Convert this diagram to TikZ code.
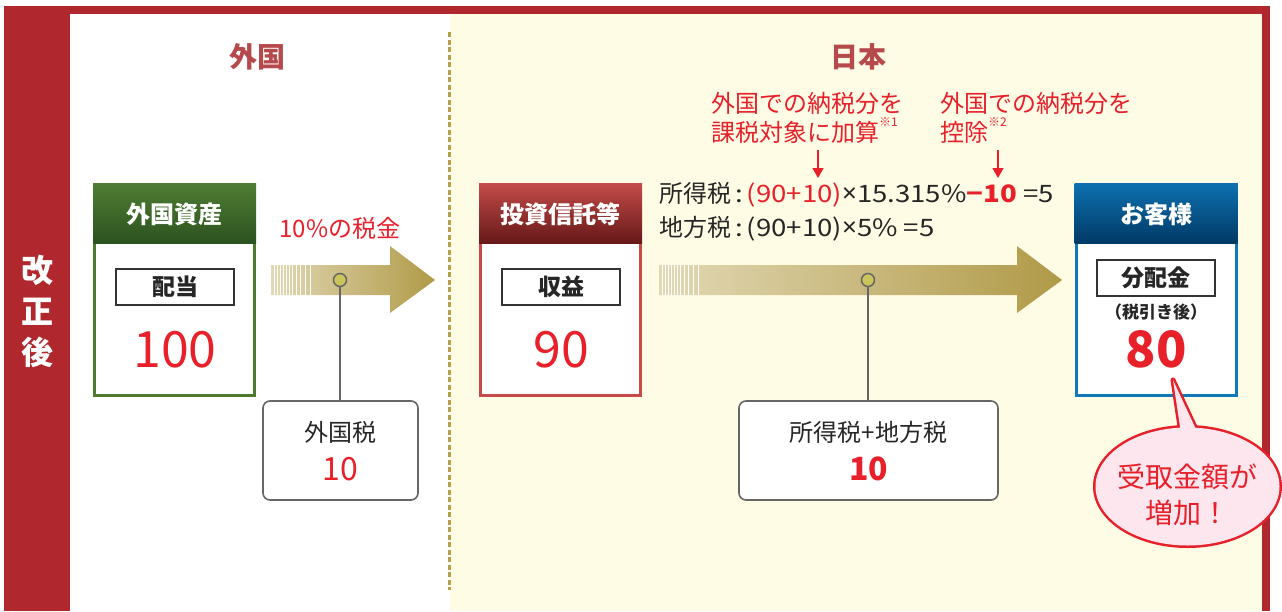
\documentclass[tikz,border=0pt]{standalone}
\usepackage{fontspec}
\setmainfont{Noto Sans CJK JP}
\newfontfamily\widefont{Noto Sans CJK JP}[FakeStretch=1.15]
\newfontfamily\latinfont{Noto Sans}
\usetikzlibrary{arrows.meta,shapes.geometric}

\definecolor{framered}{HTML}{B0282E}
\definecolor{headred}{HTML}{B5494B}
\definecolor{cream}{HTML}{FFFCE6}
\definecolor{olivedash}{HTML}{B8A048}
\definecolor{numred}{HTML}{E8202A}
\definecolor{grnline}{HTML}{4E7A30}
\definecolor{grntop}{HTML}{4F7D33}
\definecolor{grnbot}{HTML}{2C5220}
\definecolor{trline}{HTML}{C84A48}
\definecolor{trtop}{HTML}{C44C4A}
\definecolor{trbot}{HTML}{661818}
\definecolor{culine}{HTML}{0E78B8}
\definecolor{cutop}{HTML}{0E70B0}
\definecolor{cubot}{HTML}{003A66}
\definecolor{arrowL}{HTML}{E2D8B4}
\definecolor{arrowR}{HTML}{B09A48}
\definecolor{pinfill}{HTML}{CAC45A}
\definecolor{bubblefill}{HTML}{FDE6EE}

\newcommand{\tms}{{\latinfont\fontsize{26}{26}\selectfont ×}}

\tikzset{
  assetbox/.style={draw=#1, line width=3pt, fill=white, minimum width=160pt, minimum height=211pt, inner sep=0pt},
  headtext/.style={text=white, font=\fontsize{24}{26}\selectfont\bfseries},
  tagbox/.style={draw=black!80, line width=1.2pt, fill=white, minimum width=118pt, minimum height=36pt, inner sep=0pt, font=\fontsize{23}{26}\selectfont\bfseries, text=black!85},
  bignum/.style={text=numred, font=\fontsize{50}{54}\selectfont},
  taxbox/.style={draw=black!60, line width=1.6pt, fill=white, rounded corners=7pt, minimum height=99pt, inner sep=0pt},
  taxtext/.style={text=black!85, font=\fontsize{24}{26}\selectfont},
  pin/.style={circle, draw=black!60, fill=pinfill, line width=1.5pt, minimum size=13pt, inner sep=0pt},
  pinline/.style={draw=black!60, line width=1.6pt},
  notetext/.style={text=numred, align=left, anchor=north west, inner sep=0pt, font=\fontsize{24}{29}\selectfont},
  notearrow/.style={draw=numred, line width=1.3pt, -{Triangle[length=10pt,width=11pt]}},
  formula/.style={anchor=base west, inner sep=0pt, text=black!85, font=\fontsize{24}{26}\selectfont},
}

\begin{document}
\begin{tikzpicture}[x=1pt,y=-1pt]
\useasboundingbox (0,0) rectangle (1282,611);

% background and frame
\fill[cream] (450,14) rectangle (1262,611);
\fill[framered] (4,6) rectangle (1270,14);
\fill[framered] (4,6) rectangle (70,611);
\fill[framered] (1262,6) rectangle (1270,611);
\draw[olivedash, line width=3pt, dash pattern=on 5pt off 2.5pt] (449,32) -- (449,590);

\node[text=white, align=center, font=\fontsize{32}{41}\selectfont\bfseries] (after) at (37,311) {改\\正\\後};
\node[text=headred, font=\fontsize{28}{30}\selectfont\bfseries] (forhead) at (257,57) {外国};
\node[text=headred, font=\fontsize{28}{30}\selectfont\bfseries] (jphead) at (858,57) {日本};

% arrows
\shade[left color=arrowL, right color=arrowR] (271,265) -- (390,265) -- (390,246) -- (435,280) -- (390,313) -- (390,295) -- (271,295) -- cycle;
\foreach \x in {274,277,280,283,286,289,292,296,300,305,310}
  \draw[white, line width=1pt] (\x,264) -- (\x,296);
\shade[left color=arrowL, right color=arrowR] (659,265) -- (1017,265) -- (1017,246) -- (1062,280) -- (1017,313) -- (1017,295) -- (659,295) -- cycle;
\foreach \x in {662,665,668,671,674,677,680,684,688,693,698}
  \draw[white, line width=1pt] (\x,264) -- (\x,296);

% foreign asset
\node[assetbox=grnline] (asset) at (174.5,290) {};
\shade[top color=grntop, bottom color=grnbot] (93,183) rectangle (256,243);
\node[headtext] (assethead) at (174.5,214) {外国資産};
\node[tagbox] (dividend) at (175,287) {配当};
\node[bignum] (hundred) at (175,350) {100};

% investment trust
\node[assetbox=trline] (trust) at (560.5,290) {};
\shade[top color=trtop, bottom color=trbot] (479,183) rectangle (642,243);
\node[headtext] (trusthead) at (560.5,214) {投資信託等};
\node[tagbox] (income) at (561,287) {収益};
\node[bignum] (ninety) at (561,350) {90};

% customer
\node[assetbox=culine] (customer) at (1156,290) {};
\shade[top color=cutop, bottom color=cubot] (1074.5,183) rectangle (1237.5,243);
\node[headtext] (custhead) at (1156,214) {お客様};
\node[tagbox] (payout) at (1156,278) {分配金};
\node[text=black!85, font=\fontsize{17}{19}\selectfont\bfseries] (aftertax) at (1156,312) {（税引き後）};
\node[bignum, font=\fontsize{50}{54}\selectfont\bfseries] (eighty) at (1156,349) {80};

% taxes
\node[text=numred, font=\fontsize{24}{26}\selectfont] (rate) at (340,228) {10\%の税金};
\node[pin] (pin1) at (340,280) {};
\node[taxbox, minimum width=155pt] (fortax) at (340.5,450.5) {};
\node[taxtext] (fortaxlbl) at (340.5,432) {外国税};
\node[text=numred, font=\fontsize{32}{34}\selectfont] (fortaxval) at (340.5,469) {10};
\draw[pinline] (pin1) -- (pin1 |- fortax.north);

\node[pin] (pin2) at (868,280) {};
\node[taxbox, minimum width=259pt] (jptax) at (868.5,450.5) {};
\node[taxtext] (jptaxlbl) at (868.5,432) {所得税+地方税};
\node[text=numred, font=\fontsize{32}{34}\selectfont\bfseries] (jptaxval) at (868.5,469) {10};
\draw[pinline] (pin2) -- (pin2 |- jptax.north);

% formulas
\node[formula] (inctax) at (659,202)
  {所得税\,{\widefont:\,\textcolor{numred}{(90+10)}\tms 15.315\%\textcolor{numred}{\bfseries −10} =5}};
\node[formula] (loctax) at (659,236)
  {地方税\,{\widefont:\,(90+10)\tms 5\% =5}};

% notes
\node[notetext] (note1) at (711,92) {外国での納税分を\\課税対象に加算\raisebox{0.6em}{\fontsize{12}{12}\selectfont ※1}};
\node[notetext] (note2) at (940,92) {外国での納税分を\\控除\raisebox{0.6em}{\fontsize{12}{12}\selectfont ※2}};
\coordinate (n1top) at (818,150);
\coordinate (n1tip) at (818,178);
\coordinate (n2top) at (998,150);
\coordinate (n2tip) at (998,178);
\draw[notearrow] (n1top) -- (n1tip);
\draw[notearrow] (n2top) -- (n2tip);

% speech bubble
\coordinate (bubtip) at (1173,380);
\node[ellipse, draw=numred, line width=5pt, minimum width=184pt, minimum height=118pt, inner sep=0pt] (bubble) at (1187.5,486.5) {};
\draw[numred, line width=5pt, line join=round] (1182,440) -- (bubtip) -- (1201,440) -- cycle;
\fill[bubblefill] (1182,440) -- (bubtip) -- (1201,440) -- cycle;
\fill[bubblefill] (bubble.center) ellipse [x radius=92pt, y radius=59pt];
\node[text=numred, align=center, font=\fontsize{28}{36}\selectfont] (bubbletext) at (1187,495) {受取金額が\\増加！};

\end{tikzpicture}
\end{document}
